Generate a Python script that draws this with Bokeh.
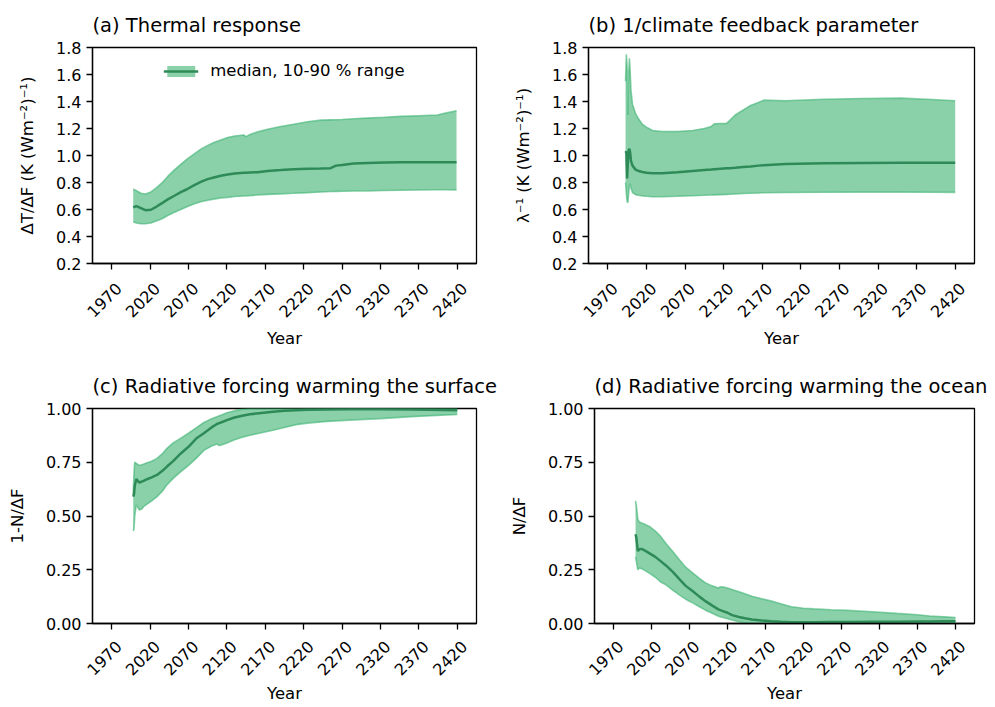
import math

from bokeh.embed import file_html
from bokeh.layouts import column, row
from bokeh.models import (CustomJSTickFormatter, FixedTicker, Legend, LegendItem, LinearAxis,
                          NumeralTickFormatter, Range1d)
from bokeh.plotting import figure
from bokeh.resources import INLINE

FONT = "DejaVu Sans"
BAND = "mediumseagreen"
MEDIAN = "seagreen"

year_ticks = [1970, 2020, 2070, 2120, 2170, 2220, 2270, 2320, 2370, 2420]
ticks_ab = [0.2, 0.4, 0.6, 0.8, 1.0, 1.2, 1.4, 1.6, 1.8]
ticks_cd = [0.0, 0.25, 0.5, 0.75, 1.0]

# (a) thermal response
years_a = [1998, 2002, 2008, 2014, 2021, 2028, 2035, 2043, 2051, 2060, 2068, 2077, 2086, 2095,
           2103, 2112, 2121, 2130, 2142, 2145, 2150, 2160, 2173, 2190, 2207, 2225, 2242, 2255,
           2262, 2270, 2285, 2303, 2325, 2346, 2370, 2394, 2403, 2419]
upper_a = [0.75, 0.74, 0.72, 0.715, 0.73, 0.76, 0.795, 0.845, 0.89, 0.935, 0.973, 1.01, 1.047, 1.075,
           1.096, 1.115, 1.133, 1.145, 1.152, 1.14, 1.155, 1.175, 1.195, 1.215, 1.232, 1.25, 1.262, 1.264,
           1.265, 1.267, 1.272, 1.277, 1.283, 1.29, 1.295, 1.30, 1.312, 1.331]
median_a = [0.615, 0.625, 0.61, 0.595, 0.598, 0.62, 0.645, 0.675, 0.70, 0.728, 0.75, 0.778, 0.805, 0.825,
            0.837, 0.85, 0.86, 0.867, 0.872, 0.873, 0.874, 0.876, 0.886, 0.892, 0.899, 0.902, 0.904, 0.906,
            0.925, 0.93, 0.94, 0.944, 0.948, 0.95, 0.95, 0.95, 0.95, 0.95]
lower_a = [0.51, 0.50, 0.495, 0.495, 0.50, 0.515, 0.53, 0.555, 0.578, 0.60, 0.62, 0.64, 0.657, 0.668,
           0.677, 0.685, 0.69, 0.696, 0.70, 0.701, 0.703, 0.707, 0.712, 0.716, 0.72, 0.725, 0.73, 0.733,
           0.734, 0.735, 0.737, 0.738, 0.741, 0.743, 0.745, 0.746, 0.746, 0.745]

# (b) 1/climate feedback parameter
years_b = [1993, 1994, 1995, 1996, 1997, 1998, 1999, 2000, 2002, 2006, 2010, 2015, 2020, 2028, 2040,
           2060, 2080, 2095, 2104, 2108, 2124, 2128, 2135, 2145, 2155, 2165, 2172, 2200, 2250, 2300,
           2350, 2390, 2420]
upper_b = [1.55, 1.75, 1.66, 1.30, 1.60, 1.72, 1.62, 1.48, 1.38, 1.31, 1.27, 1.23, 1.21, 1.185, 1.178,
           1.178, 1.185, 1.20, 1.215, 1.235, 1.238, 1.26, 1.30, 1.335, 1.37, 1.393, 1.41, 1.405, 1.417, 1.422,
           1.425, 1.415, 1.405]
median_b = [1.02, 1.03, 0.83, 0.95, 1.04, 1.05, 1.02, 0.96, 0.925, 0.895, 0.885, 0.878, 0.872, 0.868, 0.868,
            0.876, 0.886, 0.893, 0.897, 0.899, 0.905, 0.906, 0.909, 0.914, 0.919, 0.925, 0.928, 0.937, 0.942, 0.945,
            0.947, 0.947, 0.946]
lower_b = [0.80, 0.72, 0.66, 0.65, 0.72, 0.78, 0.79, 0.76, 0.726, 0.71, 0.705, 0.70, 0.698, 0.695, 0.695,
           0.698, 0.702, 0.705, 0.707, 0.708, 0.712, 0.713, 0.715, 0.718, 0.72, 0.722, 0.724, 0.726, 0.728, 0.729,
           0.729, 0.728, 0.727]

# (c) radiative forcing warming the surface
years_c = [1998, 1999, 2000, 2002, 2006, 2009, 2012, 2016, 2022, 2029, 2036, 2042, 2050, 2060, 2070, 2080,
           2090, 2100, 2107, 2110, 2113, 2120, 2130, 2140, 2150, 2165, 2180, 2195, 2210, 2225, 2250, 2280,
           2320, 2360, 2400, 2420]
upper_c = [0.60, 0.70, 0.75, 0.745, 0.735, 0.738, 0.742, 0.748, 0.755, 0.768, 0.79, 0.815, 0.84, 0.862, 0.885, 0.91,
           0.935, 0.952, 0.962, 0.966, 0.97, 0.98, 0.99, 0.997, 1.0, 1.0, 1.0, 1.0, 1.0, 1.0, 1.0, 1.0,
           1.0, 1.0, 1.0, 1.0]
median_c = [0.59, 0.60, 0.64, 0.672, 0.655, 0.66, 0.664, 0.671, 0.68, 0.691, 0.71, 0.73, 0.755, 0.791, 0.822, 0.86,
            0.885, 0.912, 0.928, 0.932, 0.936, 0.946, 0.958, 0.966, 0.973, 0.979, 0.985, 0.989, 0.992, 0.994, 0.995, 0.996,
            0.996, 0.995, 0.993, 0.992]
lower_c = [0.43, 0.44, 0.50, 0.552, 0.528, 0.532, 0.545, 0.555, 0.57, 0.59, 0.615, 0.645, 0.675, 0.706, 0.735, 0.768,
           0.805, 0.825, 0.835, 0.828, 0.83, 0.84, 0.855, 0.866, 0.876, 0.887, 0.899, 0.912, 0.925, 0.932, 0.94, 0.946,
           0.953, 0.962, 0.969, 0.972]

# (d) radiative forcing warming the ocean
years_d = [1999, 2000, 2002, 2004, 2007, 2012, 2018, 2025, 2032, 2039, 2048, 2057, 2065, 2074, 2083, 2091,
           2100, 2108, 2110, 2113, 2120, 2126, 2135, 2143, 2152, 2165, 2178, 2190, 2204, 2220, 2234, 2256,
           2278, 2310, 2343, 2370, 2386, 2405, 2420]
upper_d = [0.57, 0.55, 0.485, 0.472, 0.468, 0.46, 0.45, 0.43, 0.405, 0.372, 0.335, 0.295, 0.262, 0.236, 0.21, 0.189,
           0.175, 0.165, 0.17, 0.171, 0.165, 0.158, 0.148, 0.138, 0.127, 0.115, 0.104, 0.092, 0.078, 0.071, 0.068, 0.064,
           0.061, 0.055, 0.047, 0.041, 0.035, 0.031, 0.028]
median_d = [0.415, 0.40, 0.337, 0.345, 0.347, 0.338, 0.325, 0.31, 0.29, 0.27, 0.24, 0.205, 0.175, 0.151, 0.125, 0.104,
            0.083, 0.066, 0.063, 0.059, 0.05, 0.039, 0.03, 0.024, 0.019, 0.014, 0.01, 0.008, 0.006, 0.006, 0.006, 0.007,
            0.007, 0.008, 0.008, 0.009, 0.009, 0.01, 0.01]
lower_d = [0.31, 0.29, 0.25, 0.258, 0.255, 0.245, 0.232, 0.215, 0.193, 0.18, 0.155, 0.132, 0.113, 0.096, 0.078, 0.062,
           0.048, 0.034, 0.032, 0.029, 0.022, 0.016, 0.008, 0.003, 0.0, 0.0, 0.0, 0.0, 0.0, 0.0, 0.0, 0.0,
           0.0, 0.0, 0.0, 0.0, 0.0, 0.0, 0.0]

X_LO, X_HI = 1945, 2445
LABEL_SHIFT = 9  # years; moves rotated year labels so they sit centred under their ticks


def make_panel(title, ylabel, years, lower, median, upper, y_lim, y_ticks, y_fmt,
               width, height, borders, label_standoff, year_standoff):
    left, right, top, bottom = borders
    p = figure(width=width, height=height, title=title,
               x_range=Range1d(X_LO, X_HI), y_range=Range1d(*y_lim),
               output_backend="svg", toolbar_location=None,
               min_border_left=left, min_border_right=right,
               min_border_top=top, min_border_bottom=bottom)
    p.extra_x_ranges = {"labels": Range1d(X_LO - LABEL_SHIFT, X_HI - LABEL_SHIFT)}

    band = p.varea(x=years, y1=lower, y2=upper, fill_color=BAND, fill_alpha=0.6)
    p.line(years, lower, color=BAND, alpha=0.6, line_width=1.6)
    p.line(years, upper, color=BAND, alpha=0.6, line_width=1.6)
    med = p.line(years, median, color=MEDIAN, line_width=2.5)

    p.title.text_font = FONT
    p.title.text_font_size = "19.5px"
    p.title.text_font_style = "normal"
    p.title.text_color = "black"
    p.title.align = "left"
    p.title.standoff = 22

    p.xgrid.visible = False
    p.ygrid.visible = False
    p.outline_line_color = "black"
    p.outline_line_width = 1.3

    # tick marks on the real axis, labels on a shifted twin axis below it
    p.xaxis.ticker = FixedTicker(ticks=year_ticks)
    p.xaxis.formatter = CustomJSTickFormatter(code="return ''")
    p.xaxis.major_label_standoff = 0
    lab = LinearAxis(x_range_name="labels", ticker=FixedTicker(ticks=year_ticks),
                     axis_label="Year", axis_line_color=None, major_tick_out=0, major_tick_in=0,
                     minor_tick_out=0, minor_tick_in=0, major_label_orientation=math.pi / 4,
                     major_label_standoff=label_standoff, axis_label_standoff=year_standoff)
    p.add_layout(lab, "below")

    p.yaxis.axis_label = ylabel
    p.yaxis.ticker = FixedTicker(ticks=y_ticks)
    p.yaxis.formatter = NumeralTickFormatter(format=y_fmt)
    p.yaxis.axis_label_standoff = 16

    for ax in (p.xaxis[0], lab, p.yaxis[0]):
        ax.major_label_text_font = FONT
        ax.major_label_text_font_size = "16px"
        ax.major_label_text_color = "black"
        ax.axis_label_text_font = FONT
        ax.axis_label_text_font_size = "16.5px"
        ax.axis_label_text_font_style = "normal"
        ax.axis_label_text_color = "black"
    for ax in (p.xaxis[0], p.yaxis[0]):
        ax.axis_line_width = 1.3
        ax.major_tick_line_width = 1.3
        ax.major_tick_out = 6
        ax.major_tick_in = 0
        ax.minor_tick_out = 0
        ax.minor_tick_in = 0
    return p, band, med


pa, band_a, med_a = make_panel("(a) Thermal response", "ΔT/ΔF (K (Wm⁻²)⁻¹)",
                               years_a, lower_a, median_a, upper_a, (0.2, 1.8), ticks_ab, "0.0",
                               500, 358, (92, 24, 47, 95), 16, 3)
pb, _, _ = make_panel("(b) 1/climate feedback parameter", "λ⁻¹ (K (Wm⁻²)⁻¹)",
                      years_b, lower_b, median_b, upper_b, (0.2, 1.8), ticks_ab, "0.0",
                      493, 358, (88, 19, 47, 95), 16, 3)
pc, _, _ = make_panel("(c) Radiative forcing warming the surface", "1-N/ΔF",
                      years_c, lower_c, median_c, upper_c, (0.0, 1.0), ticks_cd, "0.00",
                      506, 347, (92, 30, 50, 81), 14, 0)
pd, _, _ = make_panel("(d) Radiative forcing warming the ocean", "N/ΔF",
                      years_d, lower_d, median_d, upper_d, (0.0, 1.0), ticks_cd, "0.00",
                      488, 347, (82, 20, 50, 81), 14, 0)

legend = Legend(items=[LegendItem(label="median, 10-90 % range", renderers=[band_a, med_a])],
                location="top_center", border_line_alpha=0, background_fill_alpha=0,
                glyph_width=35, glyph_height=14, label_text_font=FONT, label_standoff=12,
                label_text_font_size="16.5px", label_text_color="black", margin=8, padding=6)
pa.add_layout(legend)

layout = column(row(pa, pb), row(pc, pd))

open("out.html", "w").write(file_html(layout, INLINE))
